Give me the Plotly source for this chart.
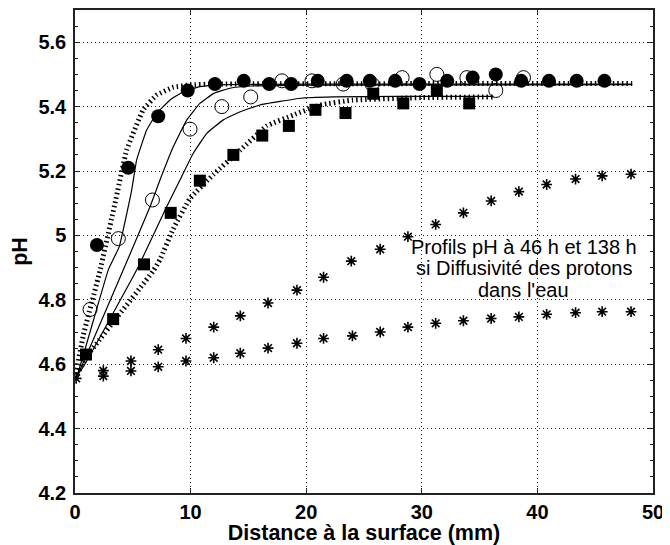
import plotly.graph_objects as go

# ---------------- data ----------------
x_filled = [1.9, 4.6, 7.2, 9.75, 12.1, 14.6, 16.8, 18.7, 21.0, 23.5, 25.5, 27.7, 29.8,
            32.2, 34.4, 36.4, 38.6, 41.0, 43.4, 45.8]
y_filled = [4.97, 5.21, 5.37, 5.45, 5.47, 5.48, 5.47, 5.47, 5.48, 5.48, 5.48, 5.48, 5.47,
            5.48, 5.49, 5.50, 5.48, 5.48, 5.48, 5.48]

x_open = [1.3, 3.75, 6.7, 9.95, 12.7, 15.2, 17.9, 20.5, 23.2, 25.7, 28.3, 31.3, 33.9, 36.4, 38.8]
y_open = [4.77, 4.99, 5.11, 5.33, 5.40, 5.43, 5.48, 5.48, 5.47, 5.47, 5.49, 5.50, 5.49, 5.45, 5.49]

x_square = [0.95, 3.3, 5.97, 8.28, 10.8, 13.7, 16.2, 18.5, 20.8, 23.4, 25.8, 28.4, 31.3, 34.1]
y_square = [4.63, 4.74, 4.91, 5.07, 5.17, 5.25, 5.31, 5.34, 5.39, 5.38, 5.44, 5.41, 5.45, 5.41]

x_star_hi = [0.1, 2.45, 4.84, 7.2, 9.6, 12.0, 14.3, 16.7, 19.2, 21.5, 23.9, 26.4, 28.8,
             31.2, 33.6, 36.0, 38.4, 40.8, 43.3, 45.6, 48.1]
y_star_hi = [4.556, 4.58, 4.61, 4.645, 4.68, 4.715, 4.75, 4.79, 4.83, 4.87, 4.92, 4.957, 4.996,
             5.034, 5.07, 5.107, 5.136, 5.158, 5.175, 5.185, 5.19]

x_star_lo = [2.45, 4.84, 7.2, 9.6, 12.0, 14.3, 16.7, 19.2, 21.5, 24.0, 26.4, 28.8,
             31.2, 33.6, 36.0, 38.4, 40.8, 43.3, 45.6, 48.1]
y_star_lo = [4.563, 4.579, 4.592, 4.61, 4.62, 4.634, 4.65, 4.665, 4.68, 4.688, 4.70, 4.715,
             4.727, 4.735, 4.742, 4.747, 4.755, 4.76, 4.763, 4.763]

# model curves (solid: fits; dotted: water diffusivity profiles)
x_fit1 = [0.0, 0.15, 2.88, 3.83, 4.9, 5.33, 6.2, 7.07, 8.2, 9.37, 10.8, 13.0, 20.0, 48.2]
y_fit1 = [4.556, 4.561, 4.893, 4.965, 5.14, 5.234, 5.327, 5.379, 5.42, 5.446, 5.462, 5.468, 5.47, 5.47]

x_fit2 = [0.0, 0.43, 4.18, 6.49, 7.35, 8.5, 9.66, 10.8, 12.0, 13.4, 15.1, 20.0, 48.2]
y_fit2 = [4.556, 4.582, 4.893, 5.089, 5.172, 5.275, 5.358, 5.41, 5.441, 5.457, 5.464, 5.467, 5.468]

x_fit3 = [0.0, 0.72, 5.34, 7.93, 9.08, 10.23, 11.4, 12.8, 14.3, 16.0, 19.5, 22.3, 28.0, 36.2]
y_fit3 = [4.556, 4.592, 4.893, 5.089, 5.172, 5.255, 5.317, 5.358, 5.384, 5.405, 5.426, 5.43, 5.432, 5.432]

x_dot1 = [0.0, 0.72, 2.16, 3.46, 4.47, 5.9, 7.07, 8.5, 9.95, 12.0, 48.2]
y_dot1 = [4.556, 4.69, 4.89, 5.10, 5.265, 5.39, 5.436, 5.46, 5.467, 5.47, 5.472]

x_dot2 = [0.0, 1.0, 6.77, 7.35, 8.5, 9.95, 12.0, 14.3, 16.6, 18.9, 21.2, 24.0, 30.0, 36.2]
y_dot2 = [4.556, 4.623, 4.89, 4.925, 5.02, 5.115, 5.19, 5.265, 5.34, 5.374, 5.405, 5.42, 5.428, 5.43]

annotation_lines = ["Profils pH à 46 h et 138 h", "si Diffusivité des protons", "dans l'eau"]
annotation_y = [4.965, 4.90, 4.83]
x_title = "Distance à la surface (mm)"
y_title = "pH"

# ---------------- figure ----------------
fig = go.Figure()

dot_line = dict(color="black", width=5, dash="1.5px,3px")
solid_line = dict(color="black", width=1.2)

for xs, ys in [(x_dot1, y_dot1), (x_dot2, y_dot2)]:
    fig.add_trace(go.Scatter(x=xs, y=ys, mode="lines", line=dict(dot_line, shape="spline", smoothing=0.3),
                             hoverinfo="skip"))
for xs, ys in [(x_fit1, y_fit1), (x_fit2, y_fit2), (x_fit3, y_fit3)]:
    fig.add_trace(go.Scatter(x=xs, y=ys, mode="lines", line=dict(solid_line, shape="spline", smoothing=0.3),
                             hoverinfo="skip"))

star = dict(symbol="asterisk-open", size=9, color="black", line=dict(color="black", width=1.6))
fig.add_trace(go.Scatter(x=x_star_hi, y=y_star_hi, mode="markers", marker=star))
fig.add_trace(go.Scatter(x=x_star_lo, y=y_star_lo, mode="markers", marker=star))

fig.add_trace(go.Scatter(x=x_square, y=y_square, mode="markers",
                         marker=dict(symbol="square", size=12, color="black")))
fig.add_trace(go.Scatter(x=x_open, y=y_open, mode="markers",
                         marker=dict(symbol="circle-open", size=14, color="black",
                                     line=dict(color="black", width=1))))
fig.add_trace(go.Scatter(x=x_filled, y=y_filled, mode="markers",
                         marker=dict(symbol="circle", size=14, color="black")))

for txt, yy in zip(annotation_lines, annotation_y):
    fig.add_annotation(x=38.8, y=yy, xref="x", yref="y", text=txt, showarrow=False,
                       font=dict(family="Liberation Sans, Arial", size=20, color="black"),
                       align="center", xanchor="center", yanchor="middle")

tickfont = dict(family="Liberation Sans, Arial", size=20, color="black", weight="bold")
titlefont = dict(family="Liberation Sans, Arial", size=21.5, color="black", weight="bold")

# the page body adds an 8px offset, so the figure is 8px smaller than the window
fig.update_layout(
    width=662, height=537,
    margin=dict(l=67, r=17, t=2, b=52),
    paper_bgcolor="white", plot_bgcolor="white",
    showlegend=False,
    xaxis=dict(range=[0, 50], tickvals=[0, 10, 20, 30, 40, 50],
               ticktext=["0", "10", "20", "30", "40", "50"],
               automargin=False,
               showgrid=True, gridcolor="#222", griddash="1px,3px", gridwidth=1,
               zeroline=False, showline=True, linecolor="#222", linewidth=1.5, mirror="ticks",
               ticks="inside", ticklen=5, tickcolor="#222",
               tickfont=tickfont, ticklabelstandoff=0,
               title=dict(text=x_title, font=titlefont, standoff=2)),
    yaxis=dict(range=[4.2, 5.7], tickvals=[4.2, 4.4, 4.6, 4.8, 5.0, 5.2, 5.4, 5.6],
               ticktext=["4.2", "4.4", "4.6", "4.8", "5", "5.2", "5.4", "5.6"],
               automargin=False,
               showgrid=True, gridcolor="#222", griddash="1px,3px", gridwidth=1,
               zeroline=False, showline=True, linecolor="#222", linewidth=1.5, mirror="ticks",
               ticks="inside", ticklen=5, tickcolor="#222",
               minor=dict(dtick=0.05, tick0=4.2, ticks="inside", ticklen=3, tickcolor="#222", showgrid=False),
               tickfont=tickfont, ticklabelstandoff=3,
               title=dict(text=y_title, font=titlefont, standoff=8)),
)

fig.write_html("out.html")
